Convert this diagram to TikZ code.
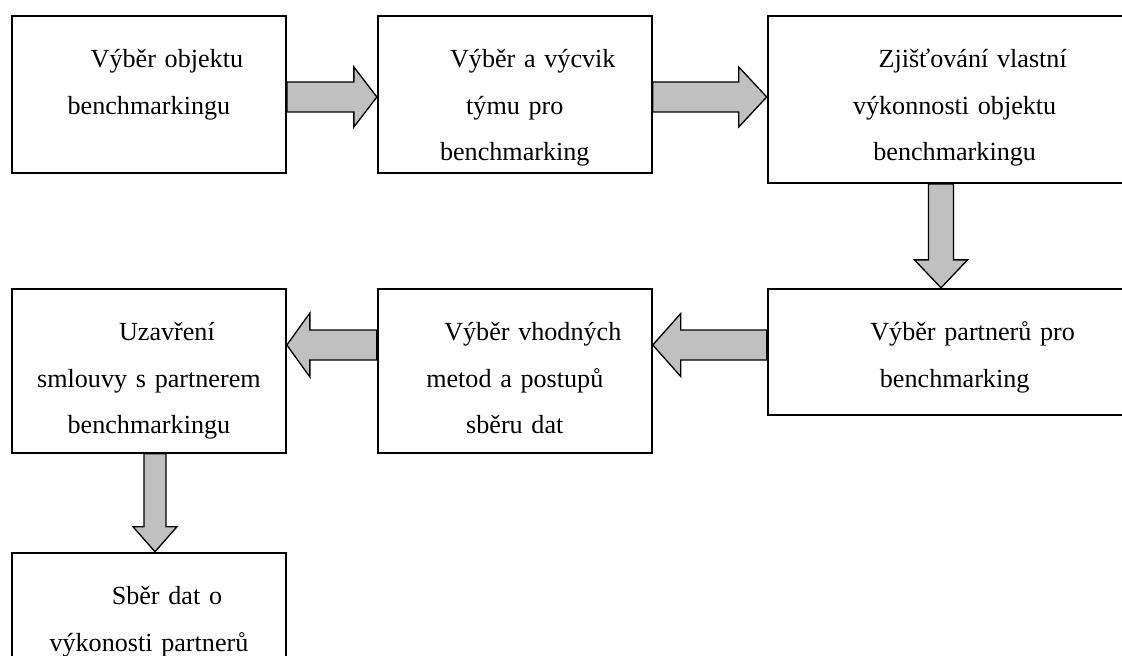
\documentclass[tikz,border=0pt]{standalone}
\usepackage{fontspec}
\setmainfont{Liberation Serif}
\usepackage{xcolor}
\usepackage{tikz}
\definecolor{arrowgray}{RGB}{192, 192, 192}
\usetikzlibrary{positioning, calc}

\begin{document}
\begin{tikzpicture}[
    x=0.75pt, y=-0.75pt,
    stagebox/.style={draw, line width=1.4pt, inner sep=0pt, text width=#1, align=center,
                     anchor=north west, font=\fontsize{19.6}{34.9}\selectfont},
    flow/.style args={#1/#2/#3}{fill=arrowgray, draw=black, line width=1pt, line join=miter,
                     to path={let \p1=($(\tikztotarget)!#3!(\tikztostart)$) in
                        ($(\tikztostart)!#1!90:(\tikztotarget)$) -- ($(\p1)!#1!90:(\tikztotarget)$)
                        -- ($(\p1)!#2!90:(\tikztotarget)$) -- (\tikztotarget)
                        -- ($(\p1)!#2!-90:(\tikztotarget)$) -- ($(\p1)!#1!-90:(\tikztotarget)$)
                        -- ($(\tikztostart)!#1!-90:(\tikztotarget)$) -- cycle}}
]
    \useasboundingbox (0,0) rectangle (1122,656);
    \clip (0,0) rectangle (1122,656);

    % First row
    \node[stagebox=205.5pt, text height=39pt, text depth=78.75pt] (object) at (11,15) {\hspace*{27pt}Výběr objektu\\ benchmarkingu};
    \node[stagebox=205.5pt, text height=39pt, text depth=78.75pt, right=67.5pt of object.north east, anchor=north west] (team) {\hspace*{27pt}Výběr a výcvik\\ týmu pro\\ benchmarking};
    \node[stagebox=280.5pt, text height=39pt, text depth=86.25pt, right=85.5pt of team.north east, anchor=north west] (selfperf) {\hspace*{27pt}Zjišťování vlastní\\ výkonnosti objektu\\ benchmarkingu};

    % Second row, right to left
    \node[stagebox=280.5pt, text height=39pt, text depth=55.5pt, below=78pt of selfperf.south west, anchor=north west] (partners) {\hspace*{27pt}Výběr partnerů pro\\ benchmarking};
    \node[stagebox=205.5pt, text height=39pt, text depth=84pt, left=85.5pt of partners.north west, anchor=north east] (methods) {\hspace*{27pt}Výběr vhodných\\ metod a postupů\\ sběru dat};
    \node[stagebox=205.5pt, text height=39pt, text depth=84pt, left=67.5pt of methods.north west, anchor=north east] (contract) {\hspace*{27pt}Uzavření\\ smlouvy s partnerem\\ benchmarkingu};
    \node[stagebox=205.5pt, text height=39pt, text depth=88.5pt, below=73.5pt of contract.south west, anchor=north west] (collect) {\hspace*{27pt}Sběr dat o\\ výkonosti partnerů};

    % Block arrows
    \draw[flow=11.25pt/22.5pt/17.25pt] (object.east |- 0,97) to (team.west |- 0,97);
    \draw[flow=11.25pt/22.5pt/21pt] (team.east |- 0,97) to (selfperf.west |- 0,97);
    \draw[flow=9.4pt/19.9pt/21pt] (selfperf.south -| 941,0) to (partners.north -| 941,0);
    \draw[flow=11.25pt/23.6pt/21pt] (partners.west |- 0,345) to (methods.east |- 0,345);
    \draw[flow=11.25pt/24pt/17.25pt] (methods.west |- 0,345) to (contract.east |- 0,345);
    \draw[flow=8.25pt/16.5pt/18.75pt] (contract.south -| 155,0) to (collect.north -| 155,0);
\end{tikzpicture}
\end{document}
